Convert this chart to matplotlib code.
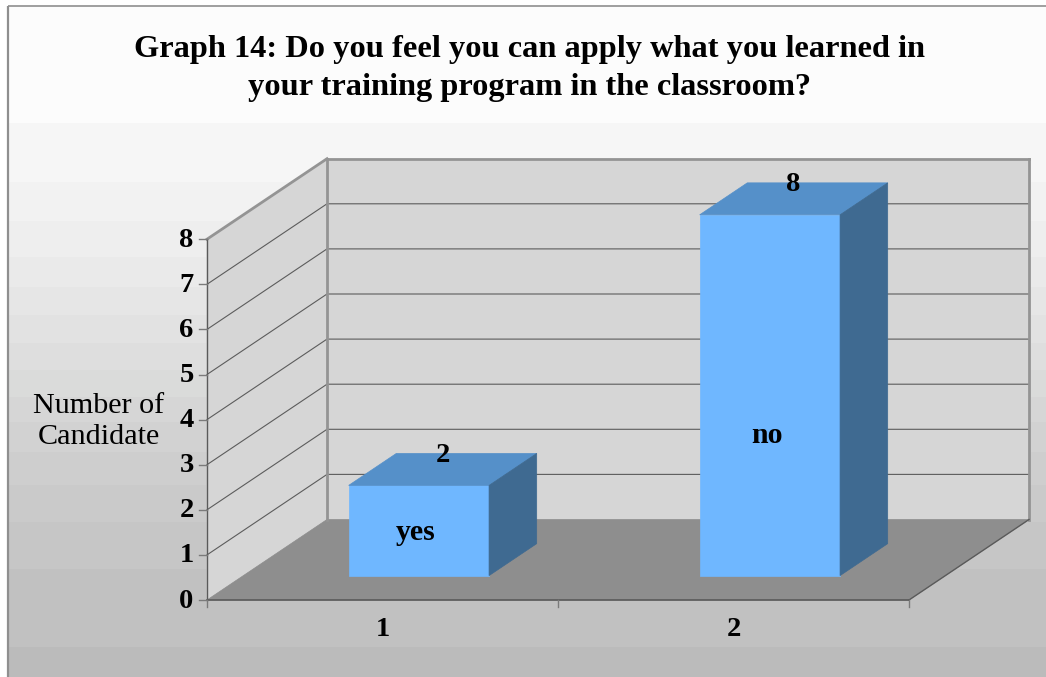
import numpy as np
import matplotlib
matplotlib.use("Agg")
import matplotlib.pyplot as plt
from matplotlib.patches import Polygon

title_lines = ["Graph 14: Do you feel you can apply what you learned in",
               "your training program in the classroom?"]
ylabel_lines = ["Number of", "Candidate"]
categories = [1, 2]
bar_names = ["yes", "no"]
values = [2, 8]
y_ticks = list(range(0, 9))

W, H = 1046, 677
plt.rcParams['font.family'] = ['Liberation Serif', 'DejaVu Serif']
fig = plt.figure(figsize=(W / 100, H / 100), dpi=100)
ax = fig.add_axes([0, 0, 1, 1])
ax.set_xlim(0, W)
ax.set_ylim(H, 0)
ax.axis('off')
fig.patch.set_facecolor('white')

# page gradient in visible bands
band_edges = [6, 123, 182, 221, 257, 287, 315, 343, 370, 397, 422, 452, 485, 522, 569, 647, 677]
band_greys = ['#fcfcfc', '#f6f6f6', '#f2f2f2', '#eeeeee', '#eaeaea', '#e6e6e6', '#e2e2e2', '#dedede',
              '#dadbda', '#d6d6d6', '#d2d2d2', '#cecece', '#cacaca', '#c6c6c6', '#c1c1c1', '#bbbbbb']
for a, b, g in zip(band_edges[:-1], band_edges[1:], band_greys):
    ax.fill_between([8, W], a, b, color=g, lw=0, zorder=0)
ax.plot([8, 8], [H, 6], color='#8f8f8f', lw=1.6, zorder=1, solid_capstyle='butt')
ax.plot([8, W], [6, 6], color='#8f8f8f', lw=1.2, zorder=1, solid_capstyle='butt')


def proj(x, v, d=0.0):
    """category position, value, depth fraction -> canvas position"""
    return (207 + (x - 0.5) * 351 + d * 120, 600 - v * 45.1 - d * 80.5)


top = y_ticks[-1]
x0, x1 = 0.5, 2.5


def poly(pts, color, z=2):
    ax.add_patch(Polygon(pts, closed=True, facecolor=color, edgecolor=color, lw=0.5, zorder=z))


# walls and floor
poly([proj(x0, 0, 1), proj(x1, 0, 1), proj(x1, top, 1), proj(x0, top, 1)], '#d6d6d6')
poly([proj(x0, 0, 0), proj(x0, 0, 1), proj(x0, top, 1), proj(x0, top, 0)], '#d6d6d6')
poly([proj(x0, 0, 0), proj(x1, 0, 0), proj(x1, 0, 1), proj(x0, 0, 1)], '#8e8e8e')

# gridlines
for v in y_ticks[1:-1]:
    a, b, c = proj(x0, v, 0), proj(x0, v, 1), proj(x1, v, 1)
    ax.plot([a[0], b[0], c[0]], [a[1], b[1], c[1]], color='#5c5c5c', lw=0.8, zorder=3)

# wall frame
for a, b in [(proj(x0, top, 0), proj(x0, top, 1)), (proj(x0, top, 1), proj(x1, top, 1)),
             (proj(x1, top, 1), proj(x1, 0, 1)), (proj(x0, top, 1), proj(x0, 0, 1))]:
    ax.plot([a[0], b[0]], [a[1], b[1]], color='#949494', lw=2.0, zorder=3, solid_capstyle='projecting')

# axis lines
ax.plot(*zip(proj(x0, top, 0), proj(x0, 0, 0)), color='#5a5a5a', lw=1.0, zorder=4)
ax.plot(*zip(proj(x0, 0, 0), proj(x1, 0, 0)), color='#5a5a5a', lw=1.2, zorder=4)
ax.plot(*zip(proj(x1, 0, 0), proj(x1, 0, 1)), color='#5a5a5a', lw=1.0, zorder=4)

# ticks and labels
for v in y_ticks:
    p = proj(x0, v, 0)
    ax.plot([p[0] - 8, p[0]], [p[1], p[1]], color='#7a7a7a', lw=1.0, zorder=4)
    ax.text(p[0] - 20.5, p[1] + 1, str(v), ha='center', va='center', fontsize=20.5,
            fontweight='bold', color='black', zorder=6)
for x in [0.5, 1.5, 2.5]:
    p = proj(x, 0, 0)
    ax.plot([p[0], p[0]], [p[1], p[1] + 7], color='#7a7a7a', lw=1.0, zorder=4)
for c in categories:
    p = proj(c, 0, 0)
    ax.text(p[0], 629, str(c), ha='center', va='center', fontsize=20.5,
            fontweight='bold', color='black', zorder=6)

# bars
half, d0, d1 = 0.2, 0.303, 0.7
inside_shift = [0, 38]
for c, v, name, shift in zip(categories, values, bar_names, inside_shift):
    l, r = c - half, c + half
    poly([proj(l, 0, d0), proj(r, 0, d0), proj(r, v, d0), proj(l, v, d0)], '#6fb7ff', z=5)
    poly([proj(l, v, d0), proj(r, v, d0), proj(r, v, d1), proj(l, v, d1)], '#5590c9', z=5)
    poly([proj(r, 0, d0), proj(r, 0, d1), proj(r, v, d1), proj(r, v, d0)], '#3f6a91', z=5)
    px, py = proj(c, v / 2, d0)
    ax.text(px - 3, py + shift + 2, name, ha='center', va='center', fontsize=21.5,
            fontweight='bold', color='black', zorder=6)
    px, py = proj(c, v, 0.5)
    ax.text(px, py - 14, str(v), ha='center', va='center', fontsize=20.5,
            fontweight='bold', color='black', zorder=6)

# title & y label
for s, y in zip(title_lines, [49, 87]):
    ax.text(529, y, s, ha='center', va='center', fontsize=23.3, fontweight='bold', color='black', zorder=6)
for s, y in zip(ylabel_lines, [406, 437]):
    ax.text(99, y, s, ha='center', va='center', fontsize=21.7, color='black', zorder=6)

fig.savefig('out.png', dpi=100)
